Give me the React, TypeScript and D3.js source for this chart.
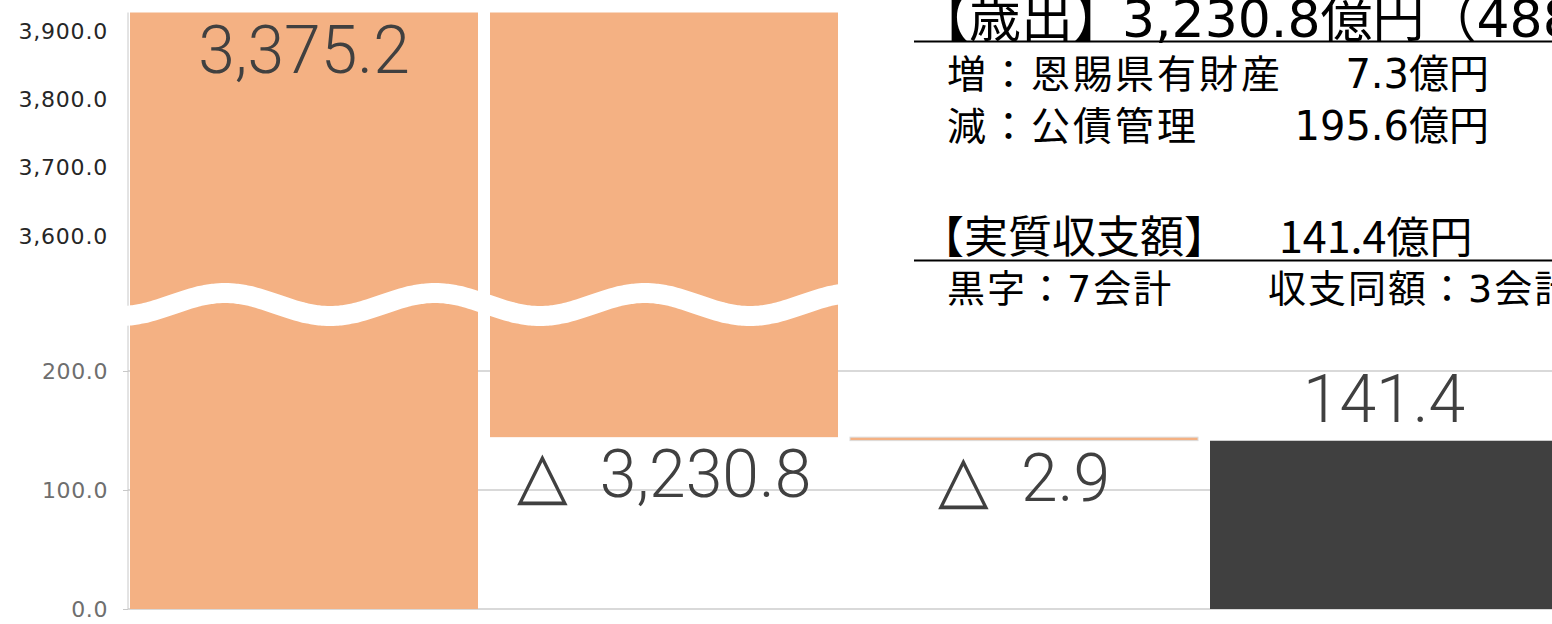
import React, { useEffect, useRef } from "react";
import * as d3 from "d3";

// waterfall values (億円)
const categories = ["歳入", "歳出", "翌年度へ繰り越すべき財源", "実質収支額"];
const values = [3375.2, -3230.8, -2.9, 141.4];
const kinds = ["total", "delta", "delta", "total"];

// broken axis: upper part and lower part
const upperTicks = [3600, 3700, 3800, 3900];
const lowerTicks = [0, 100, 200];

// annotation texts
const expHead = "【歳出】";
const expAmount = "3,230.8億円（488.6億円減）";
const expRows = [
  ["増：恩賜県有財産", "7.3億円"],
  ["減：公債管理", "195.6億円"],
];
const balHead = "【実質収支額】";
const balAmount = "141.4億円";
const balRows = ["黒字：7会計", "収支同額：3会計"];

const W = 1552;
const H = 624;
const ORANGE = "#F4B183";
const DARK = "#404040";
const CJK = "'Noto Sans CJK JP', sans-serif";
const MIX = "'DejaVu Sans', 'Noto Sans CJK JP', sans-serif";

export default function App() {
  const ref = useRef<SVGSVGElement | null>(null);

  useEffect(() => {
    const svg = d3.select(ref.current);
    svg.selectAll("*").remove();

    const plotLeft = 128;
    const plotTop = 12.5;
    const breakAt = 300; // anything above this lives in the upper (broken) part

    const x = d3
      .scaleBand<string>()
      .domain(categories)
      .range([124, 1564])
      .paddingInner(1 / 30)
      .paddingOuter(1 / 60);

    const yLow = d3.scaleLinear().domain([0, 200]).range([609, 371]);
    const yUp = d3.scaleLinear().domain([3600, 3900]).range([236, 31]);
    const py = (v: number) => (v > breakAt ? plotTop : yLow(v));

    // running totals
    let run = 0;
    const bars = categories.map((c, i) => {
      let start, end;
      if (kinds[i] === "total") {
        start = 0;
        end = values[i];
      } else {
        start = run;
        end = run + values[i];
      }
      run = end;
      return { c, i, start, end, v: values[i], kind: kinds[i] };
    });

    // gridlines (lower chart)
    svg
      .append("g")
      .selectAll("line")
      .data(lowerTicks)
      .join("line")
      .attr("x1", plotLeft)
      .attr("x2", W)
      .attr("y1", (d) => yLow(d))
      .attr("y2", (d) => yLow(d))
      .attr("stroke", "#d9d9d9")
      .attr("stroke-width", 2);

    // axis line
    svg
      .append("line")
      .attr("x1", plotLeft)
      .attr("x2", plotLeft)
      .attr("y1", plotTop)
      .attr("y2", yLow(0))
      .attr("stroke", "#c8c8c8")
      .attr("stroke-width", 1);

    // bars
    svg
      .append("g")
      .selectAll("rect")
      .data(bars)
      .join("rect")
      .attr("x", (d) => x(d.c)!)
      .attr("width", x.bandwidth())
      .attr("y", (d) => Math.min(py(d.start), py(d.end)))
      .attr("height", (d) => Math.max(1, Math.abs(py(d.start) - py(d.end))))
      .attr("fill", (d) => (d.i === bars.length - 1 ? DARK : ORANGE))
      .attr("stroke", (d) => (Math.abs(py(d.start) - py(d.end)) < 6 ? "#dcdcdc" : "none"))
      .attr("stroke-width", 1);

    // wavy break mark across the bars that cross the break
    const broken = bars.filter((d) => Math.max(d.start, d.end) > breakAt);
    const wx0 = x(broken[0].c)! - 4;
    const wx1 = x(broken[broken.length - 1].c)! + x.bandwidth() + 3;
    const pts: [number, number][] = [];
    for (let px = wx0; px <= wx1; px += 3) {
      pts.push([px, 304.5 - 11.5 * Math.sin(Math.PI / 2 + (2 * Math.PI * (px - 225)) / 210)]);
    }
    svg
      .append("path")
      .attr("d", d3.line().curve(d3.curveNatural)(pts))
      .attr("fill", "none")
      .attr("stroke", "#fff")
      .attr("stroke-width", 20);

    // axes
    const fmt = d3.format(",.1f");
    const gLow = svg
      .append("g")
      .attr("transform", `translate(${plotLeft},0)`)
      .call(d3.axisLeft(yLow).tickValues(lowerTicks).tickFormat((d) => fmt(d as number)).tickSizeInner(5).tickSizeOuter(0).tickPadding(15));
    gLow.select(".domain").remove();
    gLow.selectAll(".tick line").attr("stroke", "#c8c8c8");
    gLow
      .selectAll(".tick text")
      .attr("font-family", "'DejaVu Sans', sans-serif")
      .attr("font-size", 22)
      .attr("letter-spacing", 0.6)
      .attr("fill", "#6e6e6e");

    const gUp = svg
      .append("g")
      .attr("transform", `translate(${plotLeft},0)`)
      .call(d3.axisLeft(yUp).tickValues(upperTicks).tickFormat((d) => fmt(d as number)).tickSize(0).tickPadding(20));
    gUp.select(".domain").remove();
    gUp
      .selectAll(".tick text")
      .attr("font-family", "'DejaVu Sans', sans-serif")
      .attr("font-size", 22)
      .attr("letter-spacing", 0.8)
      .attr("fill", "#262626");

    // data labels
    svg
      .append("g")
      .selectAll("text")
      .data(bars)
      .join("text")
      .attr("x", (d) => x(d.c)! + x.bandwidth() / 2)
      .attr("y", (d) => {
        if (d.kind === "delta") return Math.max(py(d.start), py(d.end)) + 60;
        if (d.end > breakAt) return plotTop + 60.5;
        return py(d.end) - 19;
      })
      .attr("text-anchor", "middle")
      .attr("font-family", "Roboto, 'DejaVu Sans', sans-serif")
      .attr("font-weight", 300)
      .attr("font-size", 66)
      .attr("fill", DARK)
      .text((d) => (d.v < 0 ? "△\u00a0\u00a0" + fmt(-d.v) : fmt(d.v)));

    // annotations
    const ann = svg.append("g").attr("fill", "#000");
    ann.append("text").attr("x", 917).attr("y", 37).attr("font-family", CJK).attr("font-size", 52).text(expHead);
    ann.append("text").attr("x", 1122).attr("y", 37).attr("font-family", MIX).attr("font-size", 52).text(expAmount);
    ann.append("line").attr("x1", 914).attr("x2", W).attr("y1", 41.5).attr("y2", 41.5).attr("stroke", "#000").attr("stroke-width", 2);

    expRows.forEach((r, i) => {
      const y = 88 + i * 52;
      ann.append("text").attr("x", 947).attr("y", y).attr("font-family", CJK).attr("font-size", 39).attr("letter-spacing", 3).text(r[0]);
      ann.append("text").attr("x", 1489).attr("y", y).attr("text-anchor", "end").attr("font-family", MIX).attr("font-size", 40).text(r[1]);
    });

    ann.append("text").attr("x", 920).attr("y", 253).attr("font-family", CJK).attr("font-size", 44).text(balHead);
    ann.append("text").attr("x", 1279).attr("y", 253).attr("font-family", CJK).attr("font-size", 43).text(balAmount);
    ann.append("line").attr("x1", 914).attr("x2", W).attr("y1", 260.5).attr("y2", 260.5).attr("stroke", "#000").attr("stroke-width", 2);

    balRows.forEach((t, i) => {
      ann.append("text").attr("x", i === 0 ? 947 : 1268).attr("y", 302).attr("font-family", MIX).attr("font-size", 38).attr("letter-spacing", 2).text(t);
    });
  }, []);

  return (
    <svg
      ref={ref}
      width={W}
      height={H}
      style={{ position: "absolute", left: 0, top: 0, display: "block", background: "#fff" }}
    />
  );
}
